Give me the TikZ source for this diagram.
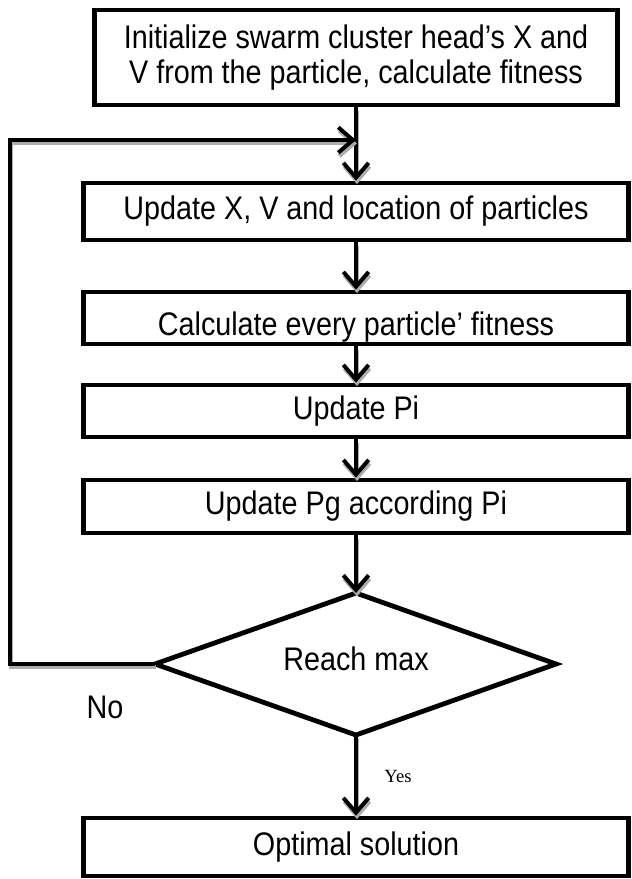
\documentclass[tikz,border=0pt]{standalone}
\usepackage{fontspec}
\setmainfont[FakeStretch=0.88]{Liberation Sans}
\newfontfamily\yesfont{Liberation Serif}
\usetikzlibrary{arrows.meta}
\begin{document}
\begin{tikzpicture}[x=0.75pt,y=-0.75pt,
  txt/.style={font=\fontsize{24.5}{26.5}\selectfont},
  stepbox/.style={draw, line width=3.6pt, fill=white, inner sep=0pt, align=center, txt, minimum width=408.75pt},
  shad/.style={preaction={draw=gray!65, line width=3pt, transform canvas={shift={(0.75pt,-2.6pt)}}}},
  conn/.style={line width=3pt, -{Straight Barb[length=11pt,width=19pt]}, shad},
  decision/.style={line width=3.6pt, line join=miter}]
\useasboundingbox (0,0) rectangle (632,879);
\node[stepbox, minimum width=392.25pt, minimum height=71.25pt] (b1) at (356,57.5)
  {Initialize swarm cluster head’s X and\\V from the particle, calculate fitness};
\node[stepbox, minimum height=42.75pt] (b2) at (356,211.5) {Update X, V and location of particles};
\node[stepbox, minimum height=39pt] (b3) at (356,318) {\raisebox{-13pt}[0pt][0pt]{Calculate every particle’ fitness}};
\node[stepbox, minimum height=39pt] (b4) at (356,411) {Update Pi};
\node[stepbox, minimum height=39.75pt] (b5) at (356,506.5) {Update Pg according Pi};
\coordinate (dN) at (356,593);
\coordinate (dE) at (556,664);
\coordinate (dS) at (356,735);
\coordinate (dW) at (155,664);
\draw[decision, fill=white] (dN) -- (dE) -- (dS) -- (dW) -- cycle;
\node[txt] (d) at (356,659) {Reach max};
\node[stepbox, minimum height=43.5pt] (b6) at (356,847) {Optimal solution};
\node[txt] (no) at (105,707) {No};
\node[font=\yesfont\fontsize{14}{16}\selectfont] (yes) at (398,776) {Yes};
\coordinate (c1) at (10,664);
\coordinate (c2) at (10,140);
\coordinate (j) at (356,140);
\draw[conn] (b1.south) -- (b2.north);
\draw[conn] (b2.south) -- (b3.north);
\draw[conn] (b3.south) -- (b4.north);
\draw[conn] (b4.south) -- (b5.north);
\draw[conn] (b5.south) -- (dN);
\draw[conn] (dS) -- (b6.north);
\draw[conn] (dW) -- (c1) -- (c2) -- (j);
\end{tikzpicture}
\end{document}
